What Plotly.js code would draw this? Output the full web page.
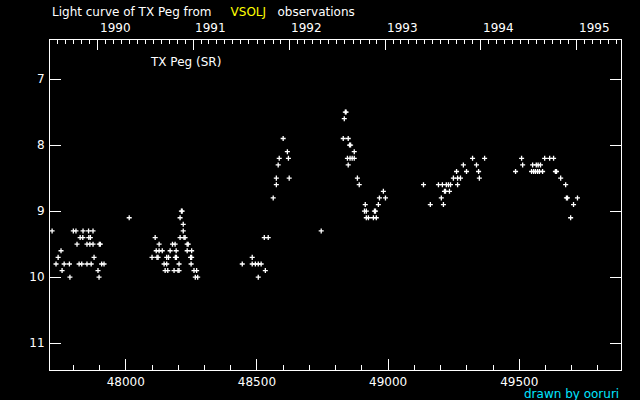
<!DOCTYPE html>
<html>
<head>
<meta charset="utf-8">
<script src="https://cdn.plot.ly/plotly-3.0.1.min.js"></script>
<style>html,body{margin:0;padding:0;background:#000;}#chart{width:640px;height:400px;}</style>
</head>
<body>
<div id="chart"></div>
<script>
// Observation dates (JD - 2400000) and visual magnitudes of TX Peg (VSOLJ)
const jd = [
  // 1989-1990 season
  47719, 47800, 47810, 47837, 47858, 47875,
  47826, 47836, 47859, 47865,
  47814, 47852, 47863, 47875, 47899, 47903,
  47753,
  47742, 47879,
  47734, 47765, 47785, 47822, 47832, 47852, 47868, 47908, 47917,
  47757, 47894,
  47787, 47898,
  48013,
  // 1990-1991 season
  48212, 48215,
  48207,
  48219,
  48219,
  48112, 48207, 48222, 48226,
  48127, 48178, 48188, 48234, 48238,
  48116, 48127, 48139, 48169, 48192, 48234, 48251,
  48100, 48119, 48123, 48156, 48163, 48189, 48193, 48247, 48251,
  48146, 48156, 48203, 48249,
  48150, 48160, 48184, 48199, 48203, 48260, 48270,
  48265, 48274,
  // 1991-1992 season
  48600,
  48616,
  48585, 48620,
  48581,
  48574, 48623,
  48574,
  48562,
  48745,
  48528, 48543,
  48482,
  48444, 48482, 48494, 48505, 48516,
  48532,
  48505,
  // 1992-1993 season
  48837, 48840,
  48833,
  48829, 48848,
  48853, 48857,
  48871,
  48845, 48855, 48863, 48871,
  48848,
  48883,
  48890,
  48982,
  48967, 48990,
  48913, 48963,
  48910, 48917, 48948, 48952,
  48917, 48925, 48944, 48955,
  // 1993-1994 season
  49322, 49368,
  49287, 49337,
  49261, 49299, 49345,
  49249, 49265, 49276, 49348,
  49135, 49192, 49207, 49222, 49230, 49238, 49265,
  49215, 49219, 49234,
  49203,
  49161, 49211,
  // 1994-1995 season
  49509, 49597, 49616, 49631,
  49513, 49551, 49565, 49572, 49581,
  49486, 49547, 49555, 49562, 49570, 49577, 49589, 49638, 49642,
  49658,
  49677,
  49680, 49684, 49722,
  49707,
  49696
];
const mag = [
  9.3, 9.3, 9.3, 9.3, 9.3, 9.3,
  9.4, 9.4, 9.4, 9.4,
  9.5, 9.5, 9.5, 9.5, 9.5, 9.5,
  9.6,
  9.7, 9.7,
  9.8, 9.8, 9.8, 9.8, 9.8, 9.8, 9.8, 9.8, 9.8,
  9.9, 9.9,
  10.0, 10.0,
  9.1,
  9.0, 9.0,
  9.1,
  9.2,
  9.3,
  9.4, 9.4, 9.4, 9.4,
  9.5, 9.5, 9.5, 9.5, 9.5,
  9.6, 9.6, 9.6, 9.6, 9.6, 9.6, 9.6,
  9.7, 9.7, 9.7, 9.7, 9.7, 9.7, 9.7, 9.7, 9.7,
  9.8, 9.8, 9.8, 9.8,
  9.9, 9.9, 9.9, 9.9, 9.9, 9.9, 9.9,
  10.0, 10.0,
  7.9,
  8.1,
  8.2, 8.2,
  8.3,
  8.5, 8.5,
  8.6,
  8.8,
  9.3,
  9.4, 9.4,
  9.7,
  9.8, 9.8, 9.8, 9.8, 9.8,
  9.9,
  10.0,
  7.5, 7.5,
  7.6,
  7.9, 7.9,
  8.0, 8.0,
  8.1,
  8.2, 8.2, 8.2, 8.2,
  8.3,
  8.5,
  8.6,
  8.7,
  8.8, 8.8,
  8.9, 8.9,
  9.0, 9.0, 9.0, 9.0,
  9.1, 9.1, 9.1, 9.1,
  8.2, 8.2,
  8.3, 8.3,
  8.4, 8.4, 8.4,
  8.5, 8.5, 8.5, 8.5,
  8.6, 8.6, 8.6, 8.6, 8.6, 8.6, 8.6,
  8.7, 8.7, 8.7,
  8.8,
  8.9, 8.9,
  8.2, 8.2, 8.2, 8.2,
  8.3, 8.3, 8.3, 8.3, 8.3,
  8.4, 8.4, 8.4, 8.4, 8.4, 8.4, 8.4, 8.4, 8.4,
  8.5,
  8.6,
  8.8, 8.8, 8.8,
  8.9,
  9.1
];
const jdTicks = [48000, 48500, 49000, 49500];
const magTicks = [7, 8, 9, 10, 11];
const years = [1990, 1991, 1992, 1993, 1994, 1995];

// JD-2400000 of a calendar date
function mjdOf(y, m) { return Date.UTC(y, m, 1) / 86400000 + 40587.5; }
const yearStarts = years.map(y => mjdOf(y, 0));
const monthStarts = [];
for (let y = 1989; y <= 1996; y++) for (let m = 0; m < 12; m++) monthStarts.push(mjdOf(y, m));

const xRange = [47711, 49888];
const yRange = [11.405, 6.409];
const FONT = 'DejaVu Sans';
const FS = 12;

const trace = {
  type: 'scatter', mode: 'markers', x: jd, y: mag,
  marker: {symbol: 'cross-thin', size: 3.6, color: '#fff', line: {color: '#fff', width: 1.3}},
  hoverinfo: 'skip', showlegend: false
};
const t2 = {type: 'scatter', mode: 'markers', x: [], y: [], xaxis: 'x2', yaxis: 'y', showlegend: false};
const t3 = {type: 'scatter', mode: 'markers', x: [], y: [], xaxis: 'x3', yaxis: 'y', showlegend: false};

const annotations = years.map((yr, i) => ({
  text: String(yr), x: yearStarts[i], xref: 'x', y: 1, yref: 'paper',
  xanchor: 'left', yanchor: 'bottom', yshift: 3, showarrow: false,
  font: {family: FONT, size: FS, color: '#fff'}
}));
annotations.push({
  text: 'Light curve of TX Peg from\u00a0\u00a0\u00a0\u00a0\u00a0<span style="color:#ffff00">VSOLJ</span>\u00a0\u00a0\u00a0observations',
  xref: 'paper', yref: 'paper', x: 0, y: 1.085, xanchor: 'left', yanchor: 'middle',
  showarrow: false, font: {family: FONT, size: FS, color: '#fff'}
});
annotations.push({
  text: 'TX Peg (SR)', xref: 'paper', yref: 'paper', x: 0.172, y: 0.933,
  xanchor: 'left', yanchor: 'middle', showarrow: false,
  font: {family: FONT, size: FS, color: '#fff'}
});
annotations.push({
  text: 'drawn by ooruri', xref: 'paper', yref: 'paper', x: 1, y: -0.072,
  xanchor: 'right', yanchor: 'middle', showarrow: false,
  font: {family: FONT, size: FS, color: '#00e5ff'}
});

const layout = {
  width: 640, height: 400,
  paper_bgcolor: '#000', plot_bgcolor: '#000',
  margin: {l: 50, r: 19, t: 40, b: 30},
  showlegend: false,
  font: {family: FONT, size: FS, color: '#fff'},
  xaxis: {
    range: xRange, tickmode: 'array', tickvals: jdTicks, ticktext: jdTicks.map(String),
    ticks: 'inside', ticklen: 11, tickwidth: 1, tickcolor: '#fff',
    minor: {dtick: 100, tick0: 48000, ticks: 'inside', ticklen: 5, tickwidth: 1, tickcolor: '#fff', showgrid: false},
    showline: true, linecolor: '#fff', linewidth: 1, mirror: false,
    showgrid: false, zeroline: false, ticklabelstandoff: 1,
    tickfont: {family: FONT, size: FS, color: '#fff'}
  },
  xaxis2: {
    range: xRange, overlaying: 'x', anchor: 'y', side: 'top',
    tickmode: 'array', tickvals: yearStarts, ticks: 'inside', ticklen: 10, tickwidth: 1, tickcolor: '#fff',
    showticklabels: false, showline: true, linecolor: '#fff', linewidth: 1,
    showgrid: false, zeroline: false
  },
  xaxis3: {
    range: xRange, overlaying: 'x', anchor: 'y', side: 'top',
    tickmode: 'array', tickvals: monthStarts, ticks: 'inside', ticklen: 4, tickwidth: 1, tickcolor: '#fff',
    showticklabels: false, showline: false, showgrid: false, zeroline: false
  },
  yaxis: {
    range: yRange, tickmode: 'array', tickvals: magTicks, ticktext: magTicks.map(String),
    ticks: 'inside', ticklen: 11, tickwidth: 1, tickcolor: '#fff',
    showline: true, linecolor: '#fff', linewidth: 1, mirror: 'ticks',
    showgrid: false, zeroline: false, ticklabelstandoff: 2,
    tickfont: {family: FONT, size: FS, color: '#fff'}
  },
  annotations: annotations
};

Plotly.newPlot('chart', [trace, t2, t3], layout, {displayModeBar: false, staticPlot: true});
</script>
</body>
</html>
